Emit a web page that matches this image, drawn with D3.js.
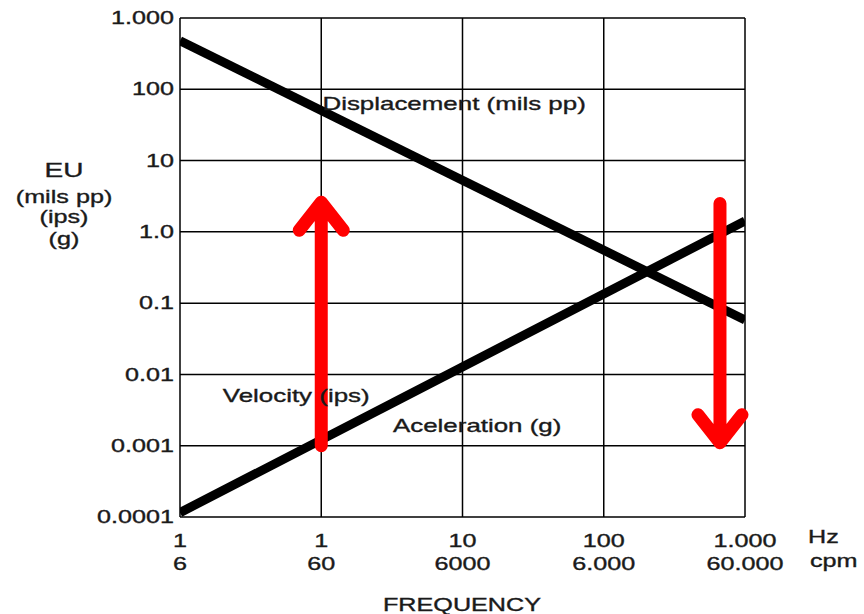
<!DOCTYPE html>
<html><head><meta charset="utf-8">
<script src="https://cdn.jsdelivr.net/npm/d3@7"></script>
<style>body{margin:0;background:#fff}svg{display:block}text{font-family:"Liberation Sans",Arial,sans-serif;fill:#1a1a1a;stroke:#1a1a1a;stroke-width:0.35px}</style>
</head><body><div id="chart"></div>
<script>
// ---- data ----
const xTicks = [0.1, 1, 10, 100, 1000];
const xTickHz = ["1", "1", "10", "100", "1.000"];
const xTickCpm = ["6", "60", "6000", "6.000", "60.000"];
const yTicks = [0.0001, 0.001, 0.01, 0.1, 1, 10, 100, 1000];
const yTickLabels = ["0.0001", "0.001", "0.01", "0.1", "1.0", "10", "100", "1.000"];
const displacement = [[0.1, 480], [1000, 0.058]];
const acceleration = [[0.1, 0.000115], [1000, 1.42]];
const arrowUp = [[1, 0.001], [1, 2.6]];
const arrowDown = [[665, 2.5], [665, 0.0011]];
const lineLabels = [
  {text: "Displacement (mils pp)", f: 1.02, v: 52},
  {text: "Velocity (ips)", f: 0.201, v: 0.0041},
  {text: "Aceleration (g)", f: 3.22, v: 0.00156}
];
const yTitle = ["EU", "(mils pp)", "(ips)", "(g)"];

// ---- layout ----
const W = 864, H = 614;
const L = 180, R = 745, T = 18, B = 517;
const SX = 1.4; // horizontal text stretch
const svg = d3.select("#chart").append("svg").attr("width", W).attr("height", H);
const x = d3.scaleLog().domain([0.1, 1000]).range([L, R]);
const y = d3.scaleLog().domain([0.0001, 1000]).range([B, T]);

function txt(g, s, px, py, anchor, size, base) {
  return g.append("text").attr("transform", `translate(${px},${py}) scale(${SX},1)`)
    .attr("text-anchor", anchor).attr("font-size", size)
    .attr("dominant-baseline", base || "auto").text(s);
}

// grid
const grid = svg.append("g");
grid.selectAll(".vx").data(xTicks).join("line")
  .attr("x1", d => x(d)).attr("x2", d => x(d)).attr("y1", T).attr("y2", B)
  .attr("stroke", "#000").attr("stroke-width", 1.5);
grid.selectAll(".hy").data(yTicks).join("line")
  .attr("y1", d => y(d)).attr("y2", d => y(d)).attr("x1", L).attr("x2", R)
  .attr("stroke", "#000").attr("stroke-width", 1.5);

// clip
svg.append("clipPath").attr("id", "clip").append("rect")
  .attr("x", L).attr("y", T).attr("width", R - L).attr("height", B - T);

const line = d3.line().x(d => x(d[0])).y(d => y(d[1]));
const plot = svg.append("g").attr("clip-path", "url(#clip)");
[displacement, acceleration].forEach(s => {
  plot.append("path").datum(s).attr("d", line).attr("fill", "none")
    .attr("stroke", "#000").attr("stroke-width", 9);
});

// arrows
function arrow(pts) {
  const x0 = x(pts[0][0]), y0 = y(pts[0][1]), y1 = y(pts[1][1]);
  const dir = y1 < y0 ? 1 : -1; // 1 = up
  const hw = 22, hh = 28;
  const p = d3.path();
  p.moveTo(x0, y0); p.lineTo(x0, y1);
  p.moveTo(x0 - hw, y1 + dir * hh); p.lineTo(x0, y1); p.lineTo(x0 + hw, y1 + dir * hh);
  svg.append("path").attr("d", p.toString()).attr("fill", "none")
    .attr("stroke", "#ff0000").attr("stroke-width", 13)
    .attr("stroke-linecap", "round").attr("stroke-linejoin", "round");
}
arrow(arrowUp);
arrow(arrowDown);

// line labels
const lab = svg.append("g");
lineLabels.forEach(d => txt(lab, d.text, x(d.f), y(d.v), "start", 18.5));

// y tick labels
const ya = svg.append("g");
yTicks.forEach((t, i) => txt(ya, yTickLabels[i], 174, y(t), "end", 18, "central"));

// x tick labels
const xa = svg.append("g");
xTicks.forEach((t, i) => {
  txt(xa, xTickHz[i], x(t), 547, "middle", 18);
  txt(xa, xTickCpm[i], x(t), 570, "middle", 18);
});
txt(xa, "Hz", 808, 543, "start", 18);
txt(xa, "cpm", 810, 567, "start", 18);
txt(xa, "FREQUENCY", 462, 611, "middle", 18);

// y title
const yt = svg.append("g");
txt(yt, yTitle[0], 64, 177, "middle", 20);
txt(yt, yTitle[1], 64, 203, "middle", 18);
txt(yt, yTitle[2], 64, 223, "middle", 18);
txt(yt, yTitle[3], 64, 245, "middle", 18);
</script></body></html>
